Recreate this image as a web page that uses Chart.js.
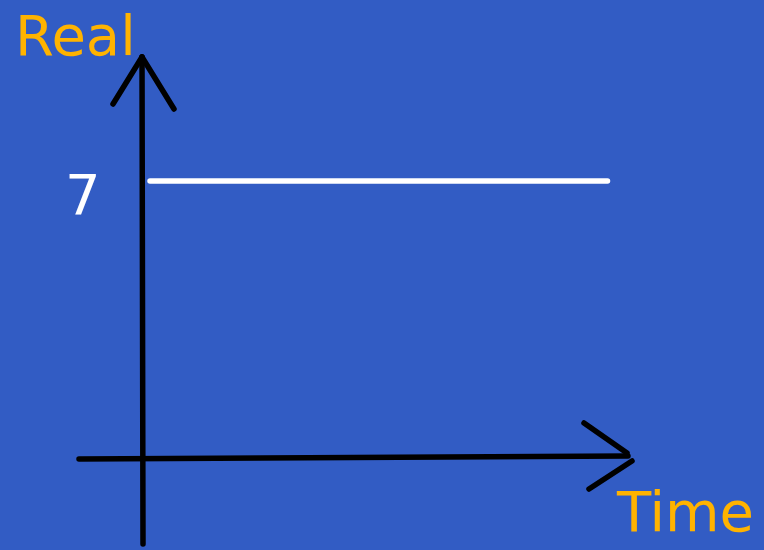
<!DOCTYPE html>
<html>
<head>
<meta charset="utf-8">
<script src="https://cdn.jsdelivr.net/npm/chart.js@4/dist/chart.umd.min.js"></script>
<style>
html,body{margin:0;padding:0;background:#325cc4;}
#wrap{width:764px;height:550px;position:relative;}
</style>
</head>
<body>
<div id="wrap"><canvas id="c"></canvas></div>
<script>
// Data
const times = [0, 10];
const realValues = [7, 7];
const yTicks = [7];
const xTitle = "Time";
const yTitle = "Real";

const BG = "#325cc4";
const ORANGE = "#ffb300";
const FONT = "56px 'DejaVu Sans', sans-serif";

const axesPlugin = {
  id: "handAxes",
  beforeDraw(chart) {
    const ctx = chart.ctx;
    ctx.save();
    ctx.fillStyle = BG;
    ctx.fillRect(0, 0, chart.width, chart.height);
    ctx.restore();
  },
  beforeDatasetsDraw(chart) {
    const ctx = chart.ctx;
    const xs = chart.scales.x, ys = chart.scales.y;
    const ox = xs.getPixelForValue(0) - 7;
    const oy = ys.getPixelForValue(0);
    ctx.save();
    ctx.strokeStyle = "#000";
    ctx.lineWidth = 5.5;
    ctx.lineCap = "round";
    ctx.lineJoin = "round";
    const seg = (a, b, c, d) => { ctx.beginPath(); ctx.moveTo(ox + a, oy + b); ctx.lineTo(ox + c, oy + d); ctx.stroke(); };
    // vertical axis
    seg(0, 86, -1, -401);
    // its arrowhead
    seg(-30, -354, -1, -401);
    seg(-1, -401, 31, -349);
    // horizontal axis
    seg(-64, 1, 485, -2);
    // its arrowhead
    seg(441, -35, 484, -5);
    seg(489, 3, 446, 31);
    ctx.restore();
  },
  afterDraw(chart) {
    const ctx = chart.ctx;
    const ys = chart.scales.y;
    ctx.save();
    ctx.font = FONT;
    ctx.textBaseline = "alphabetic";
    ctx.textAlign = "left";
    ctx.fillStyle = ORANGE;
    ctx.fillText(yTitle, 15, 55);
    ctx.fillText(xTitle, 617, 531);
    ctx.fillStyle = "#fff";
    yTicks.forEach(t => {
      ctx.fillText(String(t), 65, ys.getPixelForValue(t) + 33);
    });
    ctx.restore();
  }
};

const pxPerX = 45.75, x0 = 150;
const pxPerY = 277 / 7, y0 = 458;

new Chart(document.getElementById("c"), {
  type: "line",
  data: {
    datasets: [{
      label: yTitle,
      data: times.map((t, i) => ({ x: t, y: realValues[i] })),
      borderColor: "#ffffff",
      borderWidth: 5.5,
      borderCapStyle: "round",
      pointRadius: 0,
      fill: false,
      tension: 0
    }]
  },
  options: {
    responsive: true,
    maintainAspectRatio: false,
    animation: false,
    layout: { padding: 0 },
    plugins: { legend: { display: false }, tooltip: { enabled: false } },
    scales: {
      x: { type: "linear", display: false, min: -x0 / pxPerX, max: (764 - x0) / pxPerX },
      y: { type: "linear", display: false, min: -(550 - y0) / pxPerY, max: y0 / pxPerY }
    }
  },
  plugins: [axesPlugin]
});
</script>
</body>
</html>
